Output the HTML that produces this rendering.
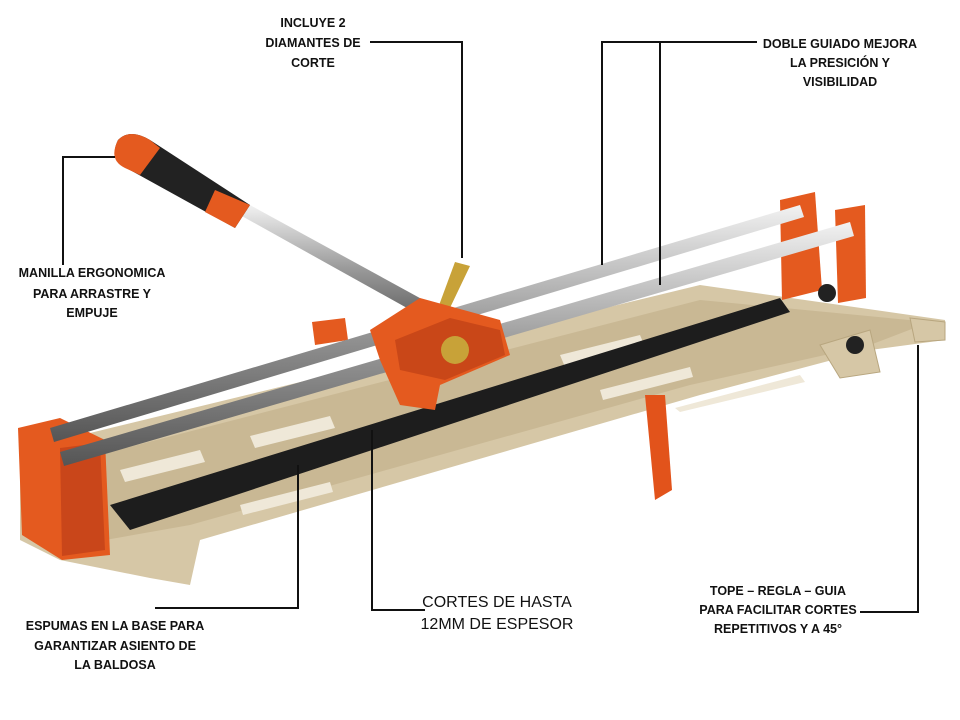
<!DOCTYPE html>
<html><head><meta charset="utf-8"><style>
html,body{margin:0;padding:0;background:#fff;}
svg{display:block}
text{font-family:"Liberation Sans",Arial,sans-serif;font-weight:bold;font-size:12.5px;fill:#111;text-anchor:middle}
.big{font-weight:normal;font-size:16px}
</style></head><body>
<svg width="960" height="720" viewBox="0 0 960 720">
<defs>
<linearGradient id="rail" x1="0" y1="0" x2="0" y2="1">
<stop offset="0" stop-color="#f2f2f2"/><stop offset=".5" stop-color="#9a9a9a"/><stop offset="1" stop-color="#555"/></linearGradient>
</defs>
<!-- base -->
<polygon points="20,450 700,285 945,320 945,340 870,350 700,395 200,540 190,585 150,578 60,560 20,540" fill="#d6c7a6"/>
<polygon points="40,470 700,300 930,322 870,345 690,385 190,525 60,548" fill="#c9b894"/>
<!-- slots -->
<g fill="#efe8d8">
<polygon points="120,470 200,450 205,462 125,482"/><polygon points="250,436 330,416 335,428 255,448"/>
<polygon points="560,355 640,335 645,347 565,367"/><polygon points="240,505 330,482 333,492 243,515"/>
<polygon points="600,390 690,367 693,377 603,400"/><polygon points="675,408 800,375 805,382 680,412"/>
</g>
<!-- black strip -->
<polygon points="110,505 780,298 790,312 130,530" fill="#1d1d1d"/>
<!-- leg -->
<polygon points="645,395 665,395 672,490 655,500" fill="#e2531b"/>
<!-- left orange block -->
<polygon points="18,428 60,418 105,440 110,555 62,560 22,535" fill="#e45a1f"/>
<polygon points="60,448 100,443 105,550 62,556" fill="#c9461a"/>
<!-- right orange blocks -->
<polygon points="780,200 815,192 822,290 782,300" fill="#e45a1f"/>
<polygon points="835,210 865,205 866,298 838,303" fill="#e45a1f"/>
<polygon points="312,322 345,318 348,340 315,345" fill="#e45a1f"/>
<!-- rails -->
<polygon points="50,428 800,205 804,217 54,442" fill="url(#rail)"/>
<polygon points="60,452 850,222 854,236 64,466" fill="url(#rail)"/>
<!-- handle -->
<polygon points="240,215 250,205 460,320 450,332" fill="url(#rail)"/>
<path d="M118,140 Q130,128 150,140 L250,205 L235,228 L130,170 Q108,160 118,140Z" fill="#222"/>
<path d="M118,140 Q130,128 150,140 L160,148 L140,175 L125,168 Q108,160 118,140Z" fill="#e45a1f"/>
<path d="M215,190 L250,205 L235,228 L205,212Z" fill="#e45a1f"/>
<!-- cutting head -->
<polygon points="455,262 470,266 448,312 438,308" fill="#c8a238"/>
<polygon points="370,330 420,298 500,320 510,355 440,385 435,410 400,405 380,360" fill="#e45a1f"/>
<polygon points="395,340 450,318 500,330 505,355 445,380 400,370" fill="#c94718"/>
<circle cx="455" cy="350" r="14" fill="#c8a238"/>
<!-- right guide -->
<polygon points="820,345 870,330 880,372 840,378" fill="#d6c7a6" stroke="#b8a67f"/>
<circle cx="827" cy="293" r="9" fill="#222"/><circle cx="855" cy="345" r="9" fill="#222"/>
<polygon points="910,318 945,322 945,340 915,342" fill="#d6c7a6" stroke="#b8a67f"/>

<!-- callout lines -->
<g stroke="#111" stroke-width="2" fill="none">
<polyline points="370,42 462,42 462,258"/>
<polyline points="757,42 602,42 602,265"/>
<line x1="660" y1="42" x2="660" y2="285"/>
<polyline points="63,265 63,157 115,157"/>
<polyline points="155,608 298,608 298,465"/>
<polyline points="372,430 372,610 425,610"/>
<polyline points="860,612 918,612 918,345"/>
</g>
<!-- labels -->
<text x="313" y="27">INCLUYE 2</text><text x="313" y="47">DIAMANTES DE</text><text x="313" y="67">CORTE</text>
<text x="840" y="48">DOBLE GUIADO MEJORA</text><text x="840" y="67">LA PRESICIÓN Y</text><text x="840" y="86">VISIBILIDAD</text>
<text x="92" y="277">MANILLA ERGONOMICA</text><text x="92" y="298">PARA ARRASTRE Y</text><text x="92" y="317">EMPUJE</text>
<text x="115" y="630">ESPUMAS EN LA BASE PARA</text><text x="115" y="650">GARANTIZAR ASIENTO DE</text><text x="115" y="669">LA BALDOSA</text>
<text class="big" x="497" y="607">CORTES DE HASTA</text><text class="big" x="497" y="629">12MM DE ESPESOR</text>
<text x="778" y="595">TOPE – REGLA – GUIA</text><text x="778" y="614">PARA FACILITAR CORTES</text><text x="778" y="633">REPETITIVOS Y A 45°</text>
</svg>
</body></html>
